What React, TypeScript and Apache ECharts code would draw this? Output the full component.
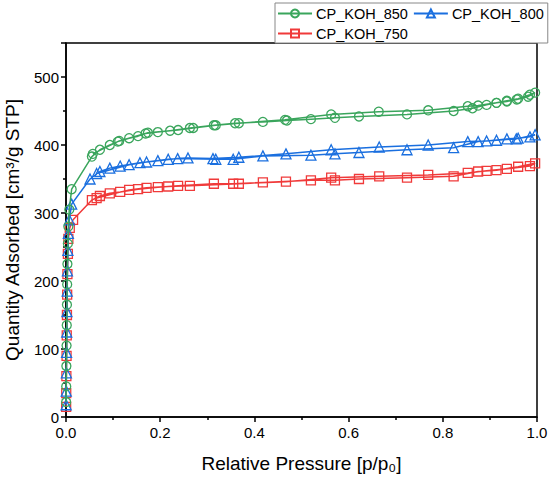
import React, { useEffect, useRef } from "react";
import * as echarts from "echarts";

const seriesNames = ["CP_KOH_850", "CP_KOH_800", "CP_KOH_750"];
const seriesColors = ["#3aa55c", "#1a6fdf", "#f03a3a"];
const seriesSymbols = ["circle", "triangle", "rect"];

// [p/p0, quantity] adsorption then desorption
const koh850: number[][] = [
  [0.0003, 22], [0.0005, 45], [0.0008, 75], [0.0012, 105], [0.0016, 135], [0.002, 165],
  [0.0025, 195], [0.003, 225], [0.004, 255], [0.005, 280], [0.007, 305], [0.012, 335],
  [0.055, 383], [0.072, 393], [0.093, 400], [0.11, 405], [0.134, 410], [0.153, 413],
  [0.169, 417], [0.195, 419], [0.221, 421], [0.263, 425], [0.314, 429], [0.359, 432],
  [0.418, 434], [0.469, 436], [0.52, 438], [0.571, 440], [0.622, 442], [0.724, 445],
  [0.823, 450], [0.863, 454], [0.893, 459], [0.914, 462], [0.936, 464], [0.957, 467],
  [0.981, 471], [0.996, 477],
  [0.985, 474], [0.96, 468], [0.936, 465], [0.914, 462], [0.875, 458], [0.853, 457],
  [0.769, 451], [0.664, 449], [0.563, 445], [0.465, 437], [0.367, 432], [0.318, 429],
  [0.27, 425], [0.238, 422], [0.174, 418], [0.113, 406], [0.057, 387],
];

const koh800: number[][] = [
  [0.0003, 18], [0.0005, 38], [0.0008, 65], [0.0012, 95], [0.0016, 125], [0.002, 155],
  [0.0025, 185], [0.003, 215], [0.004, 245], [0.005, 270], [0.007, 290], [0.012, 313],
  [0.051, 350], [0.072, 361], [0.093, 366], [0.115, 369], [0.157, 374], [0.195, 377],
  [0.237, 380], [0.318, 379], [0.355, 379], [0.418, 384], [0.52, 385], [0.571, 387],
  [0.622, 389], [0.724, 393], [0.823, 396], [0.875, 405], [0.914, 407], [0.956, 409],
  [0.996, 415],
  [0.985, 412], [0.96, 410], [0.936, 409], [0.893, 406], [0.853, 405], [0.769, 400],
  [0.665, 397], [0.563, 393], [0.467, 387], [0.367, 382], [0.312, 380], [0.259, 381],
  [0.217, 379], [0.171, 375], [0.134, 371], [0.065, 358],
];

const koh750: number[][] = [
  [0.0003, 15], [0.0005, 35], [0.0008, 60], [0.0012, 90], [0.0016, 120], [0.002, 150],
  [0.0025, 180], [0.003, 210], [0.004, 240], [0.005, 262], [0.008, 278], [0.015, 290],
  [0.055, 319], [0.072, 325], [0.093, 329], [0.115, 331], [0.153, 335], [0.195, 338],
  [0.238, 340], [0.314, 343], [0.355, 343], [0.418, 345], [0.52, 348], [0.571, 348],
  [0.622, 350], [0.724, 352], [0.823, 354], [0.875, 361], [0.914, 363], [0.96, 368],
  [0.996, 373],
  [0.985, 369], [0.936, 365], [0.893, 362], [0.853, 359], [0.769, 356], [0.665, 354],
  [0.563, 352], [0.467, 346], [0.367, 343], [0.263, 340], [0.217, 339], [0.171, 337],
  [0.134, 334], [0.065, 322],
];

const seriesData = [koh850, koh800, koh750];

const FONT = "'Liberation Sans', Arial, Helvetica, sans-serif";

export default function App() {
  const ref = useRef<HTMLDivElement>(null);
  useEffect(() => {
    if (!ref.current) return;
    const chart = echarts.init(ref.current, null, { renderer: "svg" });
    chart.setOption({
      animation: false,
      backgroundColor: "#fff",
      textStyle: { fontFamily: FONT },
      grid: {
        left: 66,
        right: 13,
        top: 43,
        bottom: 64,
        containLabel: false,
        outerBoundsMode: "none",
        show: true,
        borderColor: "#000",
        borderWidth: 1.5,
        backgroundColor: "transparent",
      },
      legend: {
        data: seriesNames,
        left: 275,
        top: 3,
        width: 272,
        orient: "horizontal",
        backgroundColor: "#fff",
        borderColor: "#888",
        borderWidth: 1,
        borderRadius: 0,
        padding: [3, 4, 2, 2],
        itemGap: 5,
        itemWidth: 34,
        itemHeight: 10,
        textStyle: { fontSize: 14.5, color: "#000", fontFamily: FONT, padding: [0, 0, 0, -1] },
      },
      xAxis: {
        type: "value",
        min: 0,
        max: 1,
        interval: 0.2,
        name: "Relative Pressure [p/p\u2080]",
        nameLocation: "middle",
        nameGap: 37,
        nameTextStyle: { fontSize: 19, color: "#000", fontFamily: FONT },
        axisLine: { show: true, onZero: false, lineStyle: { color: "#000", width: 1.5 } },
        axisTick: { show: true, inside: false, length: 5, lineStyle: { color: "#000", width: 1.5 } },
        minorTick: { show: true, splitNumber: 2, length: 3, lineStyle: { color: "#000", width: 1.5 } },
        axisLabel: {
          fontSize: 15,
          color: "#000",
          margin: 8,
          fontFamily: FONT,
          formatter: (v: number) => v.toFixed(1),
        },
        splitLine: { show: false },
      },
      yAxis: {
        type: "value",
        min: 0,
        max: 550,
        interval: 100,
        name: "Quantity Adsorbed [cm\u00b3/g STP]",
        nameLocation: "middle",
        nameGap: 44,
        nameTextStyle: { fontSize: 19, color: "#000", fontFamily: FONT },
        axisLine: { show: true, onZero: false, lineStyle: { color: "#000", width: 1.5 } },
        axisTick: { show: true, inside: false, length: 5, lineStyle: { color: "#000", width: 1.5 } },
        minorTick: { show: true, splitNumber: 2, length: 3, lineStyle: { color: "#000", width: 1.5 } },
        axisLabel: {
          fontSize: 15,
          color: "#000",
          margin: 7,
          fontFamily: FONT,
          showMaxLabel: false,
          formatter: (v: number) => (v % 100 === 0 ? String(v) : ""),
        },
        splitLine: { show: false },
      },
      series: seriesNames.map((name, i) => ({
        name,
        type: "line",
        data: seriesData[i],
        symbol: seriesSymbols[i],
        symbolSize: i === 1 ? 10 : 9,
        showAllSymbol: true,
        lineStyle: { color: seriesColors[i], width: 1.5 },
        itemStyle: { color: "rgba(255,255,255,0)", borderColor: seriesColors[i], borderWidth: 1.3 },
        z: 3 - i,
      })),
    });
    return () => chart.dispose();
  }, []);
  return (
    <div
      ref={ref}
      style={{ position: "fixed", left: 0, top: 0, width: 550, height: 481 }}
    />
  );
}
